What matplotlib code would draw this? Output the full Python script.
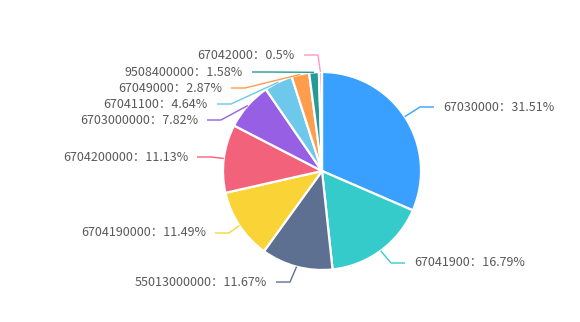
import matplotlib.pyplot as plt
import numpy as np

plt.rcParams['font.family'] = ['Noto Sans CJK SC', 'DejaVu Sans']

# data, clockwise from 12 o'clock
codes = ["67030000", "67041900", "55013000000", "6704190000", "6704200000",
         "6703000000", "67041100", "67049000", "9508400000", "67042000"]
shares = [31.51, 16.79, 11.67, 11.49, 11.13, 7.82, 4.64, 2.87, 1.58, 0.5]
colors = ["#3aa0ff", "#36cbcb", "#5d7092", "#fad337", "#f2637b",
          "#975fe4", "#6dc8ec", "#ff9d4d", "#269a99", "#ff99c3"]

# label placement (pixel coords from top-left), like the original layout
label_pos = [(443, 107), (414, 263), (267, 282), (206, 233), (188, 157),
             (198, 120), (208, 104), (222, 88), (243, 72), (295, 55)]

W, H = 580, 322
CX, CY, R = 322, 171, 99
GAP, SEG = 9, 14  # text gap and horizontal leader piece

fig = plt.figure(figsize=(W / 100, H / 100), dpi=100)
ax = fig.add_axes([0, 0, 1, 1])

wedges, _ = ax.pie(shares, colors=colors, startangle=90, counterclock=False,
                   center=(CX, H - CY), radius=R,
                   wedgeprops=dict(edgecolor="white", linewidth=1.6))
ax.set_xlim(0, W)
ax.set_ylim(0, H)
ax.set_aspect("equal")
ax.axis("off")

cum = np.cumsum([0] + shares)
for i, (code, share) in enumerate(zip(codes, shares)):
    mid = (cum[i] + share / 2) / 100 * 2 * np.pi  # clockwise from top
    dx, dy = np.sin(mid), np.cos(mid)
    p0 = (CX + R * dx, H - CY + R * dy)
    lx, ly = label_pos[i]
    ly = H - ly
    side = 1 if dx >= 0 else -1
    p2 = (lx - GAP * side, ly)
    p1 = (p2[0] - SEG * side, ly)
    ax.plot([p0[0], p1[0], p2[0]], [p0[1], p1[1], p2[1]],
            color=colors[i], lw=1, solid_capstyle="butt")
    ax.text(lx, ly, f"{code}：{share:g}%", fontsize=9, color="#595959",
            ha="left" if side > 0 else "right", va="center")

fig.savefig("out.png", dpi=100)
